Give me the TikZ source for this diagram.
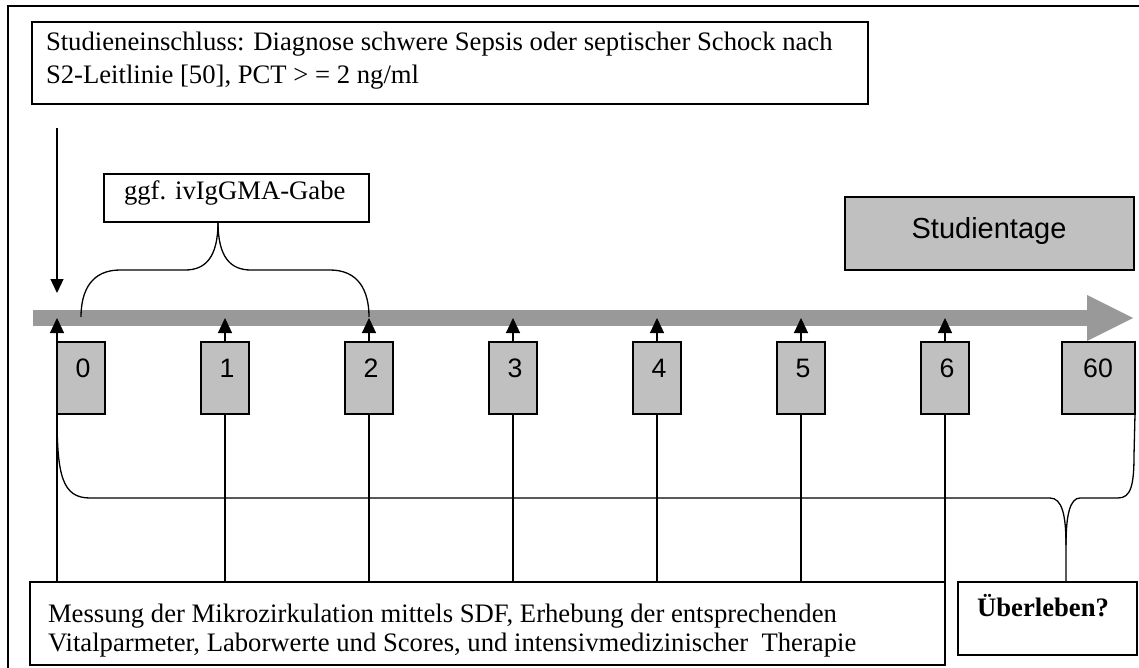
\documentclass[tikz,border=0pt]{standalone}
\usepackage{fontspec}
\setmainfont{Liberation Serif}
\newfontfamily\arialfont{Liberation Sans}
\usetikzlibrary{arrows.meta,calc}
\definecolor{boxgray}{RGB}{192,192,192}
\definecolor{bargray}{RGB}{153,153,153}
\begin{document}
\begin{tikzpicture}[x=1pt,y=-1pt,
  every node/.style={inner sep=0pt, outer sep=0pt},
  wbox/.style={draw, line width=1.5pt, fill=white, anchor=north west},
  gbox/.style={draw, line width=1.5pt, fill=boxgray, anchor=north west},
  serif/.style={font=\fontsize{26.67}{30}\selectfont, anchor=base west},
  sans/.style={font=\arialfont\fontsize{26.67}{30}\selectfont, anchor=base},
  conn/.style={line width=1.3pt},
  uparrow/.style={line width=1.3pt, -{Triangle[width=14pt,length=15pt]}},
  downarrow/.style={line width=1.3pt, -{Triangle[width=13pt,length=14pt]}},
]
\useasboundingbox (0,0) rectangle (1139,668);
\draw[line width=1.5pt] (8,668) -- (8,6) -- (1139,6);

% top box
\node[wbox, minimum width=836pt, minimum height=82pt] (inc) at (32,22) {};
\node[serif] (inc1) at (46,51) {Studieneinschluss: Diagnose schwere Sepsis oder septischer Schock nach};
\node[serif] (inc2) at (46,84) {S2-Leitlinie [50], PCT > = 2 ng/ml};

% down arrow
\coordinate (dstart) at (57,128);
\coordinate (dtip) at (57,293);
\draw[downarrow] (dstart) -- (dtip);

% ggf box
\node[wbox, minimum width=265pt, minimum height=48pt] (ggf) at (104,174) {};
\node[serif] (ggft) at (124,200) {ggf. ivIgGMA-Gabe};

% Studientage box
\node[gbox, minimum width=289pt, minimum height=73pt] (stage) at (845,197) {};
\node[sans, font=\arialfont\fontsize{29}{33}\selectfont] (staget) at (989,239) {Studientage};

% timeline bar
\node[fill=bargray, anchor=west, minimum width=1055pt, minimum height=16pt] (bar) at (33,318) {};
\fill[bargray] (1087,295) -- (1133,318) -- (1087,341) -- cycle;

% day boxes
\foreach \n/\x in {0/57,1/201,2/345,3/489,4/633,5/777,6/921}{
  \node[gbox, minimum width=48pt, minimum height=72pt] (d\n) at (\x,342) {};
  \node[sans] (l\n) at ({\x+26},377) {\n};
}
\node[gbox, minimum width=73pt, minimum height=72pt] (d60) at (1062,342) {};
\node[sans] (l60) at (1098,377) {60};

% small brace
\draw[conn] (ggf.south -| 218,0) .. controls (218,258) and (205,270) .. (185,270)
  -- (120,270) .. controls (92,270) and (81,290) .. (81,317);
\draw[conn] (ggf.south -| 218,0) .. controls (218,258) and (231,270) .. (251,270)
  -- (330,270) .. controls (358,270) and (369,290) .. (369,317);

% up arrows
\draw[uparrow] (d0.north west) -- (d0.north west |- bar.center);
\foreach \n in {1,...,6}{
  \draw[uparrow] (d\n.north) -- (d\n.north |- bar.center);
}

% measurement box
\node[wbox, minimum width=915pt, minimum height=83pt] (meas) at (30,582) {};
\node[serif] (meas1) at (48,622) {Messung der Mikrozirkulation mittels SDF, Erhebung der entsprechenden};
\node[serif] (meas2) at (48,651) {Vitalparmeter, Laborwerte und Scores, und intensivmedizinischer\ \ Therapie};

% survival box
\node[wbox, minimum width=179pt, minimum height=73pt] (ubox) at (958,582) {};
\node[serif, anchor=base, font=\bfseries\fontsize{26.67}{30}\selectfont] (ubt) at (1043,616) {Überleben?};

% vertical lines
\draw[conn] (d0.south west) -- (d0.south west |- meas.north);
\foreach \n in {1,...,6}{
  \draw[conn] (d\n.south) -- (d\n.south |- meas.north);
}

% big brace
\coordinate (btip) at (1066,582);
\draw[conn] (d0.south west) .. controls (57,475) and (62,498) .. (90,498)
  -- (1050,498) .. controls (1062,498) and (1066,515) .. (1066,545) -- (btip);
\draw[conn] (d60.south east) -- (1134,455) .. controls (1134,485) and (1131,498) .. (1118,498)
  -- (1080,498) .. controls (1070,498) and (1066,515) .. (1066,545);
\end{tikzpicture}
\end{document}
